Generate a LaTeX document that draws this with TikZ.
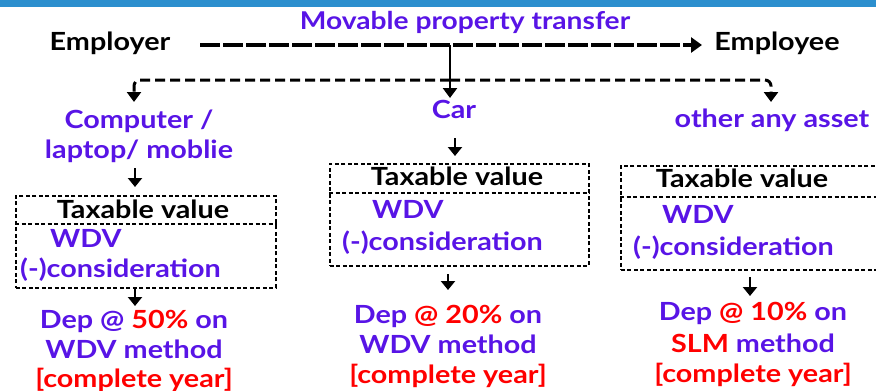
\documentclass[tikz,border=0pt]{standalone}
\usepackage{fontspec}
\setmainfont{Lato}[FakeStretch=1.15]
\usetikzlibrary{arrows.meta}
\definecolor{pur}{RGB}{88,20,230}
\definecolor{band}{RGB}{44,143,206}
\begin{document}
\begin{tikzpicture}[x=1pt,y=-1pt,
  txt/.style={inner sep=0pt, anchor=base, font=\fontsize{25}{30}\selectfont\bfseries},
  ptxt/.style={txt, text=pur},
  rtxt/.style={txt, text=red},
  ltxt/.style={ptxt, anchor=base west},
  boxline/.style={dash pattern=on 4pt off 2.5pt, line width=1.6pt},
  boxd/.style={draw, boxline, inner sep=0pt, anchor=north west},
  bigdash/.style={line width=3.5pt, dash pattern=on 20pt off 3pt},
  smalldash/.style={line width=3pt, dash pattern=on 10pt off 5pt},
  arr/.style={line width=2.5pt, -{Triangle[width=14pt,length=9pt]}}
]
\useasboundingbox (0,0) rectangle (876,391);
\fill[band] (0,0) rectangle (876,7);

% top row
\node[ptxt, font=\fontsize{24.5}{28}\selectfont\bfseries] (title) at (465,29) {Movable property transfer};
\node[txt] (er) at (110,50) {Employer};
\node[txt] (ee) at (777,50) {Employee};
\coordinate (a1) at (200,45);
\coordinate (a2) at (702,45);
\coordinate (j) at (450,45);
\coordinate (k) at (450,80);
\coordinate (jc) at (450,98);
\draw[bigdash, -{Triangle[width=15pt,length=11pt]}] (a1) -- (a2);

% items
\node[ptxt] (comp) at (139,128) {Computer /};
\node[ptxt] (lap) at (139,158) {laptop/ moblie};
\node[ptxt] (car) at (454,118) {Car};
\node[ptxt] (oth) at (772,127) {other any asset};

\draw[line width=2.5pt, -{Triangle[width=14pt,length=10pt]}] (j) -- (jc);
\draw[smalldash, rounded corners=6pt, -{Triangle[width=14pt,length=10pt]}] (k) -- (134,80) -- (134,102);
\draw[smalldash, rounded corners=6pt, -{Triangle[width=14pt,length=10pt]}] (k) -- (771,80) -- (771,102);

% left box
\node[boxd, minimum width=260, minimum height=92] (lbox) at (15,195) {};
\draw[boxline] (lbox.west |- 0,224) -- (lbox.east |- 0,224);
\node[txt] (ltv) at (143,218) {Taxable value};
\node[ltxt] (lw) at (50,247) {WDV};
\node[ltxt] (lc) at (20,277) {(-)consideration};
\coordinate (la1) at (135,168);
\coordinate (la2) at (135,187);
\coordinate (la3) at (135,289);
\coordinate (la4) at (135,306);
\draw[arr] (la1) -- (la2);
\draw[arr] (la3) -- (la4);
\node[ptxt] (ld1) at (134,328) {Dep @ \textcolor{red}{50\%} on};
\node[ptxt] (ld2) at (134,358) {WDV method};
\node[rtxt] (ld3) at (134,387) {[complete year]};

% middle box
\node[boxd, minimum width=259, minimum height=102] (mbox) at (329,163) {};
\draw[boxline] (mbox.west |- 0,193) -- (mbox.east |- 0,193);
\node[txt] (mtv) at (457,185) {Taxable value};
\node[ltxt] (mw) at (372,218) {WDV};
\node[ltxt] (mc) at (342,250) {(-)consideration};
\coordinate (ma1) at (455,138);
\coordinate (ma2) at (455,156);
\coordinate (ma3) at (448,274);
\coordinate (ma4) at (448,290);
\draw[arr] (ma1) -- (ma2);
\draw[arr] (ma3) -- (ma4);
\node[ptxt] (md1) at (448,323) {Dep \textcolor{red}{@ 20\%} on};
\node[ptxt] (md2) at (448,353) {WDV method};
\node[rtxt] (md3) at (448,383) {[complete year]};

% right box
\node[boxd, minimum width=270, minimum height=104] (rbox) at (620,165) {};
\draw[boxline] (rbox.west |- 0,197) -- (rbox.east |- 0,197);
\node[txt] (rtv) at (742,187) {Taxable value};
\node[ltxt] (rw) at (662,223) {WDV};
\node[ltxt] (rc) at (633,255) {(-)consideration};
\coordinate (ra1) at (750,277);
\coordinate (ra2) at (750,296);
\draw[arr] (ra1) -- (ra2);
\node[ptxt] (rd1) at (753,320) {Dep \textcolor{red}{@ 10\%} on};
\node[ptxt] (rd2) at (753,352) {\textcolor{red}{SLM} method};
\node[rtxt] (rd3) at (753,382) {[complete year]};
\end{tikzpicture}
\end{document}
